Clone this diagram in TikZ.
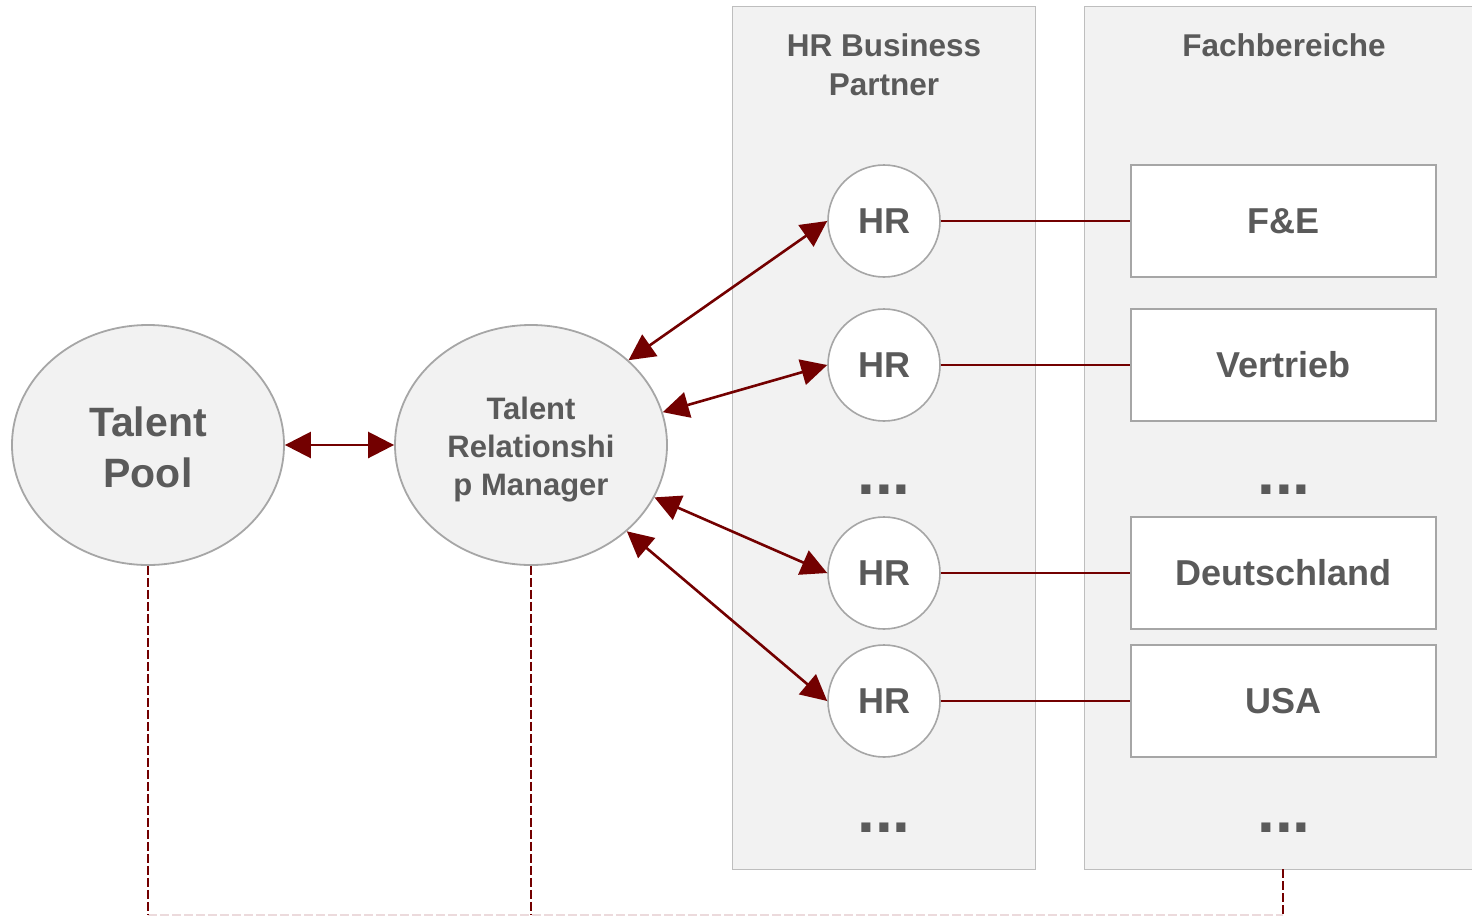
\documentclass[tikz,border=0pt]{standalone}
\usepackage{fontspec}
\setmainfont{Liberation Sans}
\usetikzlibrary{arrows.meta,shapes.geometric}
\definecolor{txt}{RGB}{90,90,90}
\definecolor{dred}{RGB}{115,0,0}
\definecolor{lgrey}{RGB}{242,242,242}
\definecolor{bord}{RGB}{166,166,166}
\definecolor{colbord}{RGB}{190,190,190}
\definecolor{pinkline}{RGB}{236,218,220}
\tikzset{
  col/.style={draw=colbord, fill=lgrey, line width=1pt},
  bigell/.style={ellipse, draw=bord, line width=1.8pt, fill=lgrey, minimum width=272pt, minimum height=240pt, inner sep=0pt, text=txt, align=center},
  hrc/.style={circle, draw=bord, line width=1.6pt, fill=white, minimum size=112pt, inner sep=0pt, text=txt, font=\fontsize{36}{40}\selectfont\bfseries},
  fbox/.style={rectangle, draw=bord, line width=1.6pt, fill=white, minimum width=305pt, minimum height=112pt, inner sep=0pt, text=txt, font=\fontsize{36}{40}\selectfont\bfseries},
  head/.style={text=txt, align=center, font=\fontsize{31.5}{39}\selectfont\bfseries},
  dots/.style={text=txt, anchor=base, inner sep=0pt, font=\fontsize{64}{64}\selectfont\bfseries},
  biarrow/.style={draw=dred, line width=2.6pt, {Triangle[length=26pt,width=26pt]}-{Triangle[length=26pt,width=26pt]}},
  link/.style={draw=dred, line width=1.5pt},
  dline/.style={draw=dred, line width=2.2pt, dash pattern=on 9pt off 3pt},
}
\begin{document}
\begin{tikzpicture}[x=1pt,y=-1pt]
\useasboundingbox (0,0) rectangle (1472,916);
% columns
\draw[col] (732,6) rectangle (1035,869);
\draw[col] (1084,6) rectangle (1490,869);
\node[head] (hbp) at (884,64.5) {HR Business\\Partner};
\node[head] (fb) at (1284,45) {Fachbereiche};
% ellipses
\node[bigell, font=\fontsize{41}{51}\selectfont\bfseries] (tp) at (148,445) {};
\node[text=txt, align=center, font=\fontsize{41}{51}\selectfont\bfseries] (tptext) at (148,447) {Talent\\Pool};
\node[bigell] (trm) at (531,445) {};
\node[text=txt, align=center, font=\fontsize{31}{38}\selectfont\bfseries] (trmtext) at (531,449.5) {Talent\\Relationshi\\p Manager};
% HR circles
\node[hrc] (hr1) at (884,221) {HR};
\node[hrc] (hr2) at (884,365) {HR};
\node[hrc] (hr3) at (884,573) {HR};
\node[hrc] (hr4) at (884,701) {HR};
% boxes
\node[fbox] (fe) at (1283.5,221) {F\&E};
\node[fbox] (vt) at (1283.5,365) {Vertrieb};
\node[fbox] (de) at (1283.5,573) {Deutschland};
\node[fbox] (us) at (1283.5,701) {USA};
% dots
\node[dots] (d1) at (884,494) {...};
\node[dots] (d2) at (1284,494) {...};
\node[dots] (d3) at (884,832) {...};
\node[dots] (d4) at (1284,832) {...};
% links
\draw[link] (hr1.east) -- (fe.west);
\draw[link] (hr2.east) -- (vt.west);
\draw[link] (hr3.east) -- (de.west);
\draw[link] (hr4.east) -- (us.west);
% arrows
\draw[biarrow] (tp.east) -- (trm.west);
\draw[biarrow] (trm.41) -- (hr1.west);
\draw[biarrow] (trm.14) -- (hr2.west);
\draw[biarrow] (trm.-23) -- (hr3.west);
\draw[biarrow] (trm.-42) -- (hr4.west);
% dashed lines
\coordinate (b1) at (148,915);
\coordinate (b2) at (531,915);
\coordinate (b3) at (1283,915);
\coordinate (fbot) at (1283,869);
\draw[draw=pinkline, line width=1.5pt, dash pattern=on 9pt off 3pt] (b1) -- (b3);
\draw[dline] (tp.south) -- (b1);
\draw[dline] (trm.south) -- (b2);
\draw[dline] (fbot) -- (b3);
\end{tikzpicture}
\end{document}
